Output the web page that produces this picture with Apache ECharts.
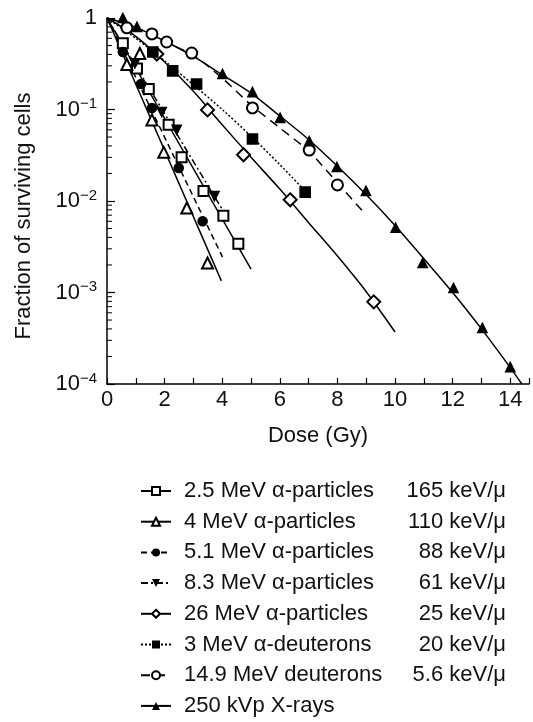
<!DOCTYPE html>
<html>
<head>
<meta charset="utf-8">
<script src="https://cdn.jsdelivr.net/npm/echarts@6/dist/echarts.min.js"></script>
<style>
  html, body { margin: 0; padding: 0; background: #fff; }
  #chart { width: 533px; height: 722px; }
</style>
</head>
<body>
<div id="chart"></div>
<script>
// legend names + LET column
const names = [
  '2.5 MeV α-particles', '4 MeV α-particles', '5.1 MeV α-particles', '8.3 MeV α-particles',
  '26 MeV α-particles', '3 MeV α-deuterons', '14.9 MeV deuterons', '250 kVp X-rays'
]
const letValues = ['165 keV/μ', '110 keV/μ', '88 keV/μ', '61 keV/μ', '25 keV/μ', '20 keV/μ', '5.6 keV/μ', '']

// measured points [dose Gy, surviving fraction]
const alpha25Pts = [[0.55, 0.53], [1.04, 0.28], [1.45, 0.168], [2.14, 0.068], [2.59, 0.030], [3.35, 0.0129], [4.04, 0.0069], [4.56, 0.0034]]
const alpha4Pts = [[0.69, 0.31], [1.14, 0.41], [1.56, 0.077], [1.97, 0.034], [2.77, 0.0084], [3.49, 0.0021]]
const alpha51Pts = [[0.55, 0.425], [1.18, 0.19], [1.56, 0.104], [2.49, 0.023], [3.32, 0.0060]]
const alpha83Pts = [[0.97, 0.32], [1.90, 0.094], [2.42, 0.060], [3.73, 0.0113]]
const alpha26Pts = [[1.73, 0.404], [3.49, 0.099], [4.74, 0.032], [6.36, 0.0103], [9.26, 0.00079]]
const deut3Pts = [[1.59, 0.425], [2.28, 0.264], [3.11, 0.19], [5.05, 0.0476], [6.88, 0.0125]]
const deut149Pts = [[0.69, 0.78], [1.56, 0.67], [2.07, 0.547], [2.94, 0.414], [5.05, 0.104], [7.02, 0.036], [8.0, 0.015]]
const xrayPts = [[0.55, 1.0], [1.04, 0.80], [4.01, 0.244], [5.05, 0.155], [6.01, 0.081], [7.02, 0.045], [7.98, 0.0235],
  [8.99, 0.0129], [10.02, 0.0051], [10.96, 0.0021], [12.03, 0.00112], [13.03, 0.00041], [14.0, 0.000153]]

// fitted curves
const alpha25Fit = [[0, 1], [5.0, 0.0018]]
const alpha4Fit = [[0, 1], [3.97, 0.00134]]
const alpha51Fit = [[0, 1], [4.01, 0.00244]]
const alpha83Fit = [[0, 1], [4.0, 0.0081]]
const alpha26Fit = [[0, 1], [1, 0.63], [2, 0.33], [3, 0.158], [4, 0.068], [5, 0.030], [6, 0.0135], [7, 0.0058], [8, 0.0025], [9, 0.00102], [10, 0.00037]]
const deut3Fit = [[0, 1], [1, 0.60], [2, 0.34], [3, 0.186], [4, 0.10], [5, 0.051], [6, 0.025], [6.9, 0.0126]]
const deut149Fit = [[0, 1], [1, 0.79], [2, 0.55], [3, 0.39], [4, 0.22], [5, 0.112], [6, 0.063], [7, 0.035], [8, 0.0158], [8.85, 0.0079]]
const xrayFit = [[0, 1], [1, 0.79], [2, 0.56], [3, 0.38], [4, 0.24], [5, 0.151], [6, 0.085], [7, 0.047], [8, 0.024], [9, 0.0117],
  [10, 0.0054], [11, 0.00234], [12, 0.0010], [13, 0.0004], [14, 0.000151], [14.4, 0.0001]]

// log minor ticks 2..9 per decade
const yMinorTicks = []
for (let e = -4; e < 0; e++) {
  for (let m = 2; m <= 9; m++) yMinorTicks.push([0, m * Math.pow(10, e)])
}

const FONT = 'Liberation Sans'
const FS = 22

const sets = [
  { pts: alpha25Pts, fit: alpha25Fit, symbol: 'emptyRect', size: 10, dash: 'solid' },
  { pts: alpha4Pts, fit: alpha4Fit, symbol: 'emptyTriangle', size: 11, dash: 'solid' },
  { pts: alpha51Pts, fit: alpha51Fit, symbol: 'circle', size: 9, dash: [6, 4] },
  { pts: alpha83Pts, fit: alpha83Fit, symbol: 'triangle', rotate: 180, size: 9, dash: [7, 3, 2, 3] },
  { pts: alpha26Pts, fit: alpha26Fit, symbol: 'emptyDiamond', size: 13, dash: 'solid' },
  { pts: deut3Pts, fit: deut3Fit, symbol: 'rect', size: 10, dash: [2, 2] },
  { pts: deut149Pts, fit: deut149Fit, symbol: 'emptyCircle', size: 11, dash: [9, 6] },
  { pts: xrayPts, fit: xrayFit, symbol: 'triangle', size: 9, dash: 'solid' }
]

const series = []
sets.forEach((s, i) => {
  series.push({
    name: names[i],
    type: 'line',
    data: s.fit,
    smooth: s.fit.length > 2 ? 0.3 : false,
    showSymbol: false,
    symbol: s.symbol,
    symbolRotate: s.rotate || 0,
    lineStyle: { color: '#000', width: 1.5, type: s.dash },
    itemStyle: { color: '#000' },
    silent: true,
    z: 2
  })
  series.push({
    name: names[i] + ' data',
    type: 'scatter',
    data: s.pts,
    symbol: s.symbol,
    symbolRotate: s.rotate || 0,
    symbolSize: s.size,
    clip: false,
    itemStyle: { color: '#000', borderColor: '#000', borderWidth: 1.6, opacity: 1 },
    z: 3
  })
})

series.push({
  type: 'custom',
  data: yMinorTicks,
  clip: false,
  silent: true,
  renderItem: (params, api) => {
    const p = api.coord([0, api.value(1)])
    return {
      type: 'line',
      shape: { x1: p[0], y1: p[1], x2: p[0] + 5, y2: p[1] },
      style: { stroke: '#000', lineWidth: 1 }
    }
  }
})

const chart = echarts.init(document.getElementById('chart'))
chart.setOption({
  animation: false,
  backgroundColor: '#fff',
  textStyle: { fontFamily: FONT, color: '#111' },
  grid: { left: 107, right: 4, top: 18, bottom: 338 },
  graphic: [{
    type: 'text',
    x: 24,
    y: 216,
    rotation: Math.PI / 2,
    style: {
      text: 'Fraction of surviving cells',
      fontSize: FS, fontFamily: FONT, fill: '#111',
      align: 'center', verticalAlign: 'middle'
    }
  }],
  xAxis: {
    type: 'value',
    min: 0,
    max: 14.65,
    interval: 1,
    name: 'Dose (Gy)',
    nameLocation: 'middle',
    nameGap: 41,
    nameTextStyle: { fontSize: FS, color: '#111', fontFamily: FONT },
    axisLine: { lineStyle: { color: '#000', width: 1.5 } },
    axisTick: { inside: true, length: 6, lineStyle: { color: '#000', width: 1.2 } },
    axisLabel: {
      fontSize: FS, color: '#111', margin: 5, fontFamily: FONT,
      formatter: v => (v % 2 === 0 ? String(v) : '')
    },
    splitLine: { show: false }
  },
  yAxis: {
    type: 'log',
    logBase: 10,
    min: 1e-4,
    max: 1,
    axisLine: { show: true, lineStyle: { color: '#000', width: 1.5 } },
    axisTick: { inside: true, length: 8, lineStyle: { color: '#000', width: 1.2 } },
    axisLabel: {
      margin: 10,
      fontFamily: FONT,
      formatter: v => {
        const e = Math.round(Math.log10(v))
        return e === 0 ? '{b|1}' : '{b|10}{s|−' + (-e) + '}'
      },
      rich: {
        b: { fontSize: FS, color: '#111', fontFamily: FONT, lineHeight: 26 },
        s: { fontSize: 15, color: '#111', fontFamily: FONT, lineHeight: 15, verticalAlign: 'top' }
      }
    },
    splitLine: { show: false }
  },
  legend: {
    orient: 'vertical',
    left: 135,
    top: 475,
    itemWidth: 30,
    itemHeight: 10,
    itemGap: 8.7,
    selectedMode: false,
    data: names,
    formatter: name => '{n|' + name + '}{v|' + letValues[names.indexOf(name)] + '}',
    textStyle: {
      fontFamily: FONT,
      rich: {
        n: { width: 212, fontSize: FS, color: '#111', fontFamily: FONT, lineHeight: 22, padding: [0, 0, 0, 8] },
        v: { width: 110, align: 'right', fontSize: FS, color: '#111', fontFamily: FONT, lineHeight: 22 }
      }
    }
  },
  series
})
</script>
</body>
</html>
